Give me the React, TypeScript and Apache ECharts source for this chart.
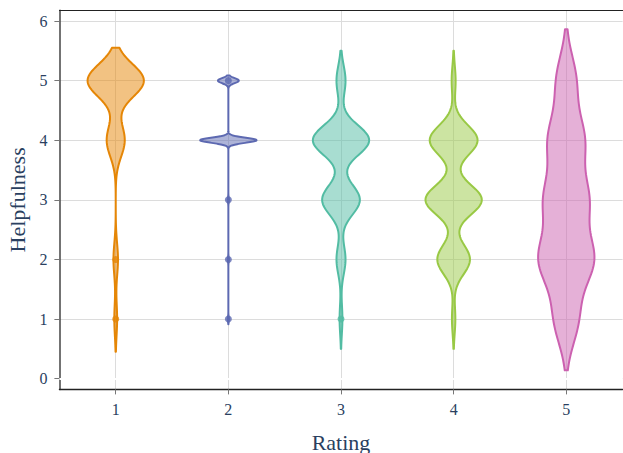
import React, { useEffect, useRef } from 'react';
import * as echarts from 'echarts';

// Categories (Rating) and helpfulness levels
const ratings = [1, 2, 3, 4, 5];
const helpfulnessLevels = [1, 2, 3, 4, 5];

// Relative counts of each helpfulness level (1..5) per rating
const countsRating1 = [5, 8, 0, 32, 100];
const countsRating2 = [2, 2, 2, 100, 37];
const countsRating3 = [5, 16, 67, 100, 16];
const countsRating4 = [6, 58, 100, 85, 7];
const countsRating5 = [41, 93, 74, 61, 34];

// KDE bandwidths (min - 2bw .. max + 2bw)
const bandwidths = [0.275, 0.043, 0.25, 0.25, 0.43];

// Outlier points shown on the violins
const outliersRating1 = [1, 2];
const outliersRating2 = [1, 2, 3, 5];
const outliersRating3 = [1];
const outliersRating4: number[] = [];
const outliersRating5: number[] = [];

const yTicks = [0, 1, 2, 3, 4, 5, 6];

const colors = [
  'rgb(229,134,6)',
  'rgb(93,105,177)',
  'rgb(82,188,163)',
  'rgb(153,201,69)',
  'rgb(204,97,176)',
];
const fills = [
  'rgba(229,134,6,0.5)',
  'rgba(93,105,177,0.5)',
  'rgba(82,188,163,0.5)',
  'rgba(153,201,69,0.5)',
  'rgba(204,97,176,0.5)',
];

const allCounts = [countsRating1, countsRating2, countsRating3, countsRating4, countsRating5];
const allOutliers = [outliersRating1, outliersRating2, outliersRating3, outliersRating4, outliersRating5];

function kdeProfile(counts: number[], bw: number): [number, number][] {
  const present = helpfulnessLevels.filter((_, i) => counts[i] > 0);
  const lo = Math.min(...present) - 2 * bw;
  const hi = Math.max(...present) + 2 * bw;
  const step = bw / 10;
  const n = Math.ceil((hi - lo) / step);
  const out: [number, number][] = [];
  let maxD = 0;
  for (let i = 0; i <= n; i++) {
    const y = lo + ((hi - lo) * i) / n;
    let d = 0;
    for (let k = 0; k < helpfulnessLevels.length; k++) {
      const z = (y - helpfulnessLevels[k]) / bw;
      d += counts[k] * Math.exp(-0.5 * z * z);
    }
    if (d > maxD) maxD = d;
    out.push([y, d]);
  }
  return out.map(([y, d]) => [y, d / maxD]);
}

const profiles = allCounts.map((c, i) => kdeProfile(c, bandwidths[i]));
const HALF_WIDTH = 0.25;

const FONT = '"Liberation Serif", "Times New Roman", serif';
const TEXT = '#2a3f5f';

export default function App() {
  const ref = useRef<HTMLDivElement>(null);
  useEffect(() => {
    if (!ref.current) return;
    const chart = echarts.init(ref.current, undefined, { renderer: 'svg' });
    const outlierData: any[] = [];
    allOutliers.forEach((arr, i) => {
      arr.forEach((v) => {
        outlierData.push({ value: [ratings[i], v], itemStyle: { color: colors[i] } });
      });
    });
    chart.setOption({
      animation: false,
      backgroundColor: '#fff',
      grid: { left: 59.4, right: 0.4, top: 10.3, bottom: 63.6, outerBoundsMode: 'none', containLabel: false },
      xAxis: [
        {
          type: 'value',
          min: 0.5,
          max: 5.5,
          name: 'Rating',
          nameLocation: 'middle',
          nameGap: 42,
          nameTextStyle: { fontFamily: FONT, fontSize: 22, color: TEXT },
          axisLine: { show: true, onZero: false, lineStyle: { color: '#222', width: 1.3 } },
          axisTick: { show: true, length: 5, customValues: ratings, lineStyle: { color: '#777' } },
          axisLabel: { customValues: ratings, margin: 12, fontFamily: FONT, fontSize: 16, color: TEXT },
          splitLine: { show: true, lineStyle: { color: '#dcdcdc', width: 1 } },
        },
        {
          type: 'value',
          position: 'top',
          min: 0.5,
          max: 5.5,
          axisLine: { show: true, onZero: false, lineStyle: { color: '#222', width: 1 } },
          axisTick: { show: false },
          axisLabel: { show: false },
          splitLine: { show: false },
        },
      ],
      yAxis: {
        type: 'value',
        min: -0.18,
        max: 6.18,
        name: 'Helpfulness',
        nameLocation: 'middle',
        nameGap: 29,
        nameTextStyle: { fontFamily: FONT, fontSize: 22, color: TEXT },
        axisLine: { show: true, onZero: false, lineStyle: { color: '#444', width: 1.5 } },
        axisTick: { show: true, length: 5, customValues: yTicks, lineStyle: { color: '#777' } },
        axisLabel: { customValues: yTicks, margin: 12, fontFamily: FONT, fontSize: 16, color: TEXT },
        splitLine: { show: true, lineStyle: { color: '#dcdcdc', width: 1 } },
      },
      series: [
        {
          type: 'custom',
          xAxisIndex: 0,
          data: ratings.map((r) => [r]),
          renderItem: (params: any, api: any) => {
            const i = params.dataIndex;
            const x = ratings[i];
            const prof = profiles[i];
            const pts: number[][] = [];
            for (let k = 0; k < prof.length; k++) {
              pts.push(api.coord([x + prof[k][1] * HALF_WIDTH, prof[k][0]]));
            }
            for (let k = prof.length - 1; k >= 0; k--) {
              pts.push(api.coord([x - prof[k][1] * HALF_WIDTH, prof[k][0]]));
            }
            return {
              type: 'polygon',
              shape: { points: pts },
              style: { fill: fills[i], stroke: colors[i], lineWidth: 2, lineJoin: 'round' },
            };
          },
          markLine: {
            silent: true,
            symbol: 'none',
            label: { show: false },
            lineStyle: { color: '#fff', width: 2, type: 'solid' },
            data: [{ yAxis: 0 }],
          },
          z: 2,
        },
        {
          type: 'scatter',
          xAxisIndex: 0,
          symbol: 'circle',
          symbolSize: 7,
          data: outlierData,
          z: 3,
        },
      ],
    });
    return () => chart.dispose();
  }, []);
  return (
    <div
      ref={ref}
      style={{ position: 'absolute', left: 0, top: 0, width: 623, height: 453 }}
    />
  );
}
